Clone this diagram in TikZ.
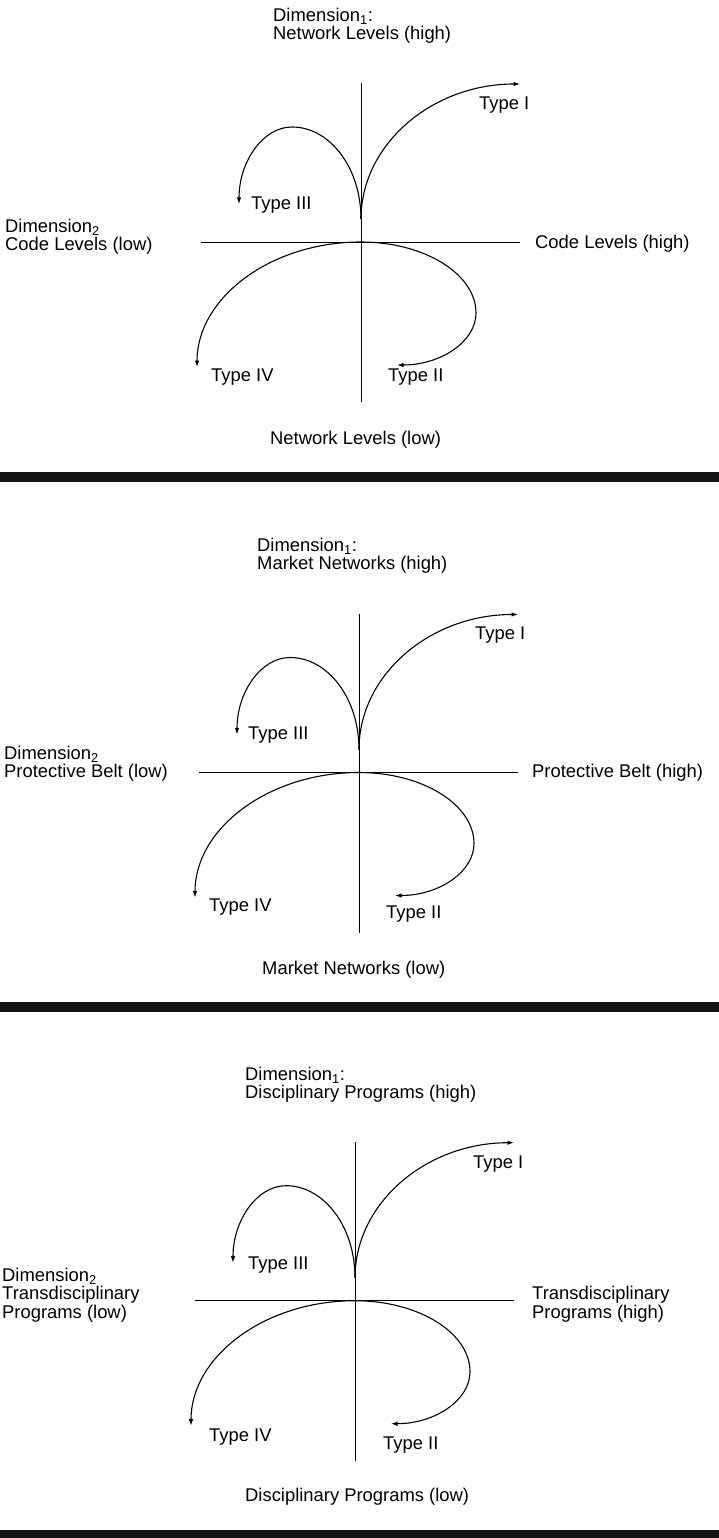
\documentclass[tikz,border=0pt]{standalone}
\usepackage{fontspec}
\setmainfont{Liberation Sans}
\usetikzlibrary{arrows.meta}

\tikzset{
  lbl/.style={anchor=west, inner sep=0pt, text height=13pt, text depth=0pt,
              font=\fontsize{18.4}{18.4}\selectfont},
  axisline/.style={line width=0.9pt},
  trend/.style={line width=1.1pt, -{Latex[length=6.5pt,width=4.5pt]}},
  rule/.style={fill=black!92},
}

% axes and the four trajectories, drawn about the crossing point of the axes
\newcommand\quadrants{%
  \coordinate (vt) at (0,-159);  \coordinate (vb) at (0,160);
  \coordinate (hl) at (-160,0);  \coordinate (hr) at (159,0);
  \coordinate (o) at (0,0);
  \coordinate (cusp) at (0,-23);
  \coordinate (t1) at (159,-158);
  \coordinate (t3top) at (-69,-115);
  \coordinate (t3) at (-122,-38);
  \coordinate (t4) at (-164,125);
  \coordinate (t2side) at (115,71);
  \coordinate (t2) at (36,123);
  \draw[axisline] (vt) -- (vb);
  \draw[axisline] (hl) -- (hr);
  \draw[trend] (cusp) .. controls +(0,-74.5) and +(-88,0) .. (t1);
  \draw[trend] (cusp) .. controls +(0,-51) and +(38,0) .. (t3top)
                      .. controls +(-29,0) and +(0,-42.5) .. (t3);
  \draw[trend] (o) .. controls +(-90.5,0) and +(0,-69) .. (t4);
  \draw[trend] (o) .. controls +(63.5,0) and +(0,-39) .. (t2side)
                   .. controls +(0,28.7) and +(43.6,0) .. (t2);
}

\begin{document}
\begin{tikzpicture}[x=1pt,y=-1pt]
\fill[white] (0,0) rectangle (719,1538);
\useasboundingbox (0,0) rectangle (719,1538);

% ---------- first panel ----------
\begin{scope}[shift={(361,242)}, name prefix=a-]
  \quadrants
\end{scope}
\node[lbl] (a-dim1) at (273,15) {Dimension\textsubscript{1}:};
\node[lbl] (a-high) at (273,33) {Network Levels (high)};
\node[lbl] (a-type1) at (479,103) {Type I};
\node[lbl] (a-type3) at (251,203) {Type III};
\node[lbl] (a-type4) at (211,375) {Type IV};
\node[lbl] (a-type2) at (388,375) {Type II};
\node[lbl] (a-low) at (270,438) {Network Levels (low)};
\node[lbl] (a-dim2) at (5,226) {Dimension\textsubscript{2}};
\node[lbl] (a-left) at (5,244) {Code Levels (low)};
\node[lbl] (a-right) at (535,242) {Code Levels (high)};
\fill[rule] (0,472) rectangle (719,482);

% ---------- second panel ----------
\begin{scope}[shift={(359,772.5)}, name prefix=b-]
  \quadrants
\end{scope}
\node[lbl] (b-dim1) at (257,545) {Dimension\textsubscript{1}:};
\node[lbl] (b-high) at (257,563) {Market Networks (high)};
\node[lbl] (b-type1) at (475,633) {Type I};
\node[lbl] (b-type3) at (248,733) {Type III};
\node[lbl] (b-type4) at (209,905) {Type IV};
\node[lbl] (b-type2) at (386,912) {Type II};
\node[lbl] (b-low) at (262,968) {Market Networks (low)};
\node[lbl] (b-dim2) at (4,753) {Dimension\textsubscript{2}};
\node[lbl] (b-left) at (4,771) {Protective Belt (low)};
\node[lbl] (b-right) at (532,771) {Protective Belt (high)};
\fill[rule] (0,1002) rectangle (719,1012);

% ---------- third panel ----------
\begin{scope}[shift={(355,1300.7)}, name prefix=c-]
  \quadrants
\end{scope}
\node[lbl] (c-dim1) at (245,1074) {Dimension\textsubscript{1}:};
\node[lbl] (c-high) at (245,1092) {Disciplinary Programs (high)};
\node[lbl] (c-type1) at (473,1162) {Type I};
\node[lbl] (c-type3) at (248,1263) {Type III};
\node[lbl] (c-type4) at (209,1435) {Type IV};
\node[lbl] (c-type2) at (383,1443) {Type II};
\node[lbl] (c-low) at (245,1495) {Disciplinary Programs (low)};
\node[lbl] (c-dim2) at (2,1275) {Dimension\textsubscript{2}};
\node[lbl] (c-left1) at (2,1293) {Transdisciplinary};
\node[lbl] (c-left2) at (2,1311.5) {Programs (low)};
\node[lbl] (c-right1) at (532,1293) {Transdisciplinary};
\node[lbl] (c-right2) at (532,1311.5) {Programs (high)};
\fill[rule] (0,1530) rectangle (719,1538);
\end{tikzpicture}
\end{document}
